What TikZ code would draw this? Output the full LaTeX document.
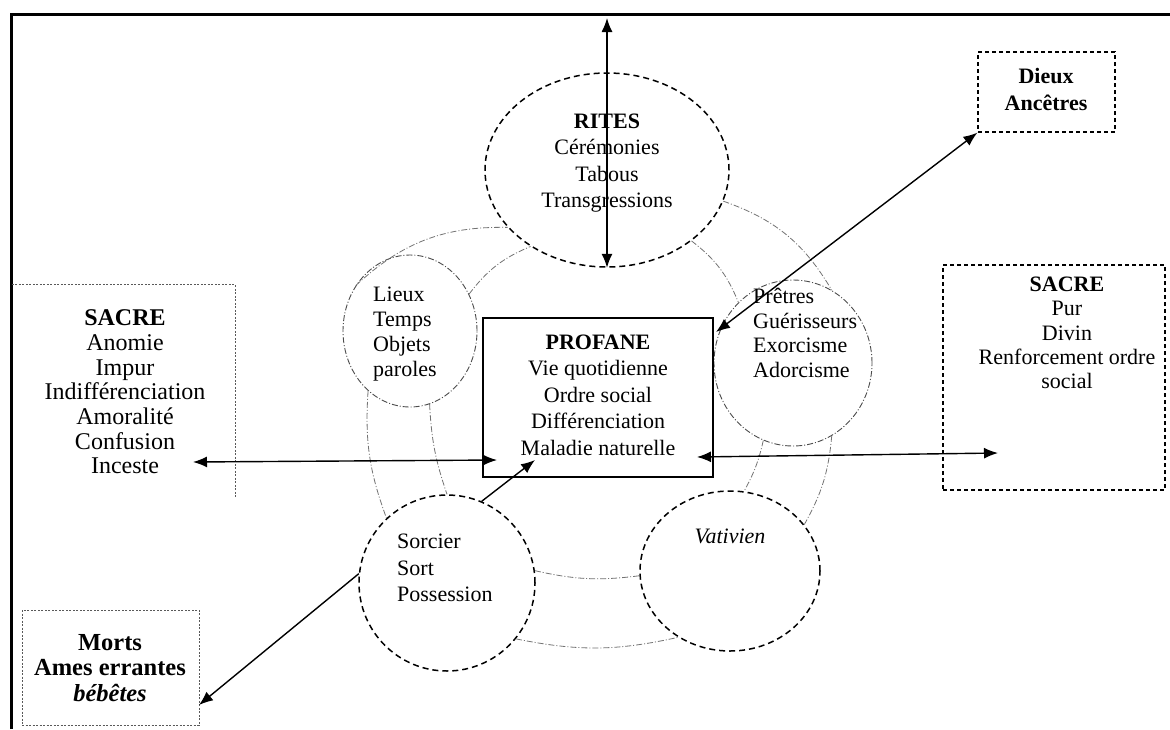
\documentclass[tikz,border=0pt]{standalone}
\usepackage{fontspec}
\setmainfont{Liberation Serif}
\usetikzlibrary{shapes.geometric,arrows.meta}
\begin{document}
\begin{tikzpicture}[x=1pt,y=1pt,
  txt/.style={font=\fontsize{22}{26.5}\selectfont, inner sep=0pt, align=center},
  bubble/.style={draw, line width=1.5pt, dash pattern=on 6pt off 4pt, ellipse, inner sep=0pt},
  thinbubble/.style={draw=black!70, line width=0.9pt, dash pattern=on 6pt off 2pt on 1pt off 2pt, ellipse, inner sep=0pt},
  ring/.style={draw=black!55, line width=0.8pt, dash pattern=on 6pt off 2pt on 1pt off 2pt},
  arr/.style={line width=1.4pt, {Latex[length=14pt,width=11pt]}-{Latex[length=14pt,width=11pt]}},
  onearr/.style={line width=1.4pt, -{Latex[length=14pt,width=11pt]}},
  dbox/.style={draw, line width=1.3pt, dash pattern=on 4pt off 3pt, inner sep=0pt},
  dotbox/.style={draw=black!65, line width=1pt, dash pattern=on 2pt off 1.5pt},
  plainbox/.style={inner sep=0pt},
]
\useasboundingbox (0,0) rectangle (1170,-729);
\fill[white] (0,0) rectangle (1170,-729);
\draw[line width=3pt] (11,-729) -- (11,-14) -- (1171,-14);

% bubbles
\node[bubble, minimum width=244pt, minimum height=194pt] (R) at (607,-170) {};
\node[thinbubble, minimum width=134pt, minimum height=152pt] (L) at (410,-331) {};
\node[thinbubble, minimum width=158pt, minimum height=166pt] (P) at (793,-363) {};
\node[bubble, minimum width=176pt, minimum height=176pt] (S) at (447,-583) {};
\node[bubble, minimum width=180pt, minimum height=160pt] (V) at (730,-571) {};

% ring arcs
\draw[ring] (L.140) to[bend left=22] (R.210);
\draw[ring] (L.32) to[bend left=15] (R.225);
\draw[ring] (R.345) to[bend left=20] (P.62);
\draw[ring] (R.320) to[bend left=15] (P.132);
\draw[ring] (L.235) to[bend right=12] (S.133);
\draw[ring] (L.285) to[bend right=8] (S.90);
\draw[ring] (P.298) to[bend left=12] (V.32);
\draw[ring] (P.249) to[bend left=8] (V.80);
\draw[ring] (S.8) to[bend right=10] (V.183);
\draw[ring] (S.321) to[bend right=12] (V.232);

% profane
\node[draw, line width=1.3pt, minimum width=230pt, minimum height=159pt, inner sep=0pt] (PR) at (598,-397.5) {};
\node[txt] (PT) at (598,-395) {\textbf{PROFANE}\\Vie quotidienne\\Ordre social\\Différenciation\\Maladie naturelle};

% texts in bubbles
\node[txt] (RT) at (607,-163) {\textbf{RITES}\\Cérémonies\\Tabous\\Transgressions};
\node[txt, align=left, anchor=west, font=\fontsize{22}{25}\selectfont] (LT) at (373,-334) {Lieux\\Temps\\Objets\\paroles};
\node[txt, align=left, anchor=west, font=\fontsize{22}{24.5}\selectfont] (PTT) at (753,-333) {Prêtres\\Guérisseurs\\Exorcisme\\Adorcisme};
\node[txt, align=left, anchor=west] (ST) at (397,-568) {Sorcier\\Sort\\Possession};
\node[txt, font=\fontsize{22}{26}\itshape] (VT) at (730,-536) {Vativien};

% outer boxes
\node[plainbox, minimum width=223pt, minimum height=212pt] (LSb) at (123.5,-391) {};
\draw[dotbox] (LSb.north west) -- (LSb.north east) -- (LSb.south east);
\node[txt, font=\fontsize{24}{24.7}\selectfont] (LS) at (125,-392) {\textbf{SACRE}\\Anomie\\Impur\\Indifférenciation\\Amoralité\\Confusion\\Inceste};

\node[dbox, minimum width=222pt, minimum height=225pt] (RSb) at (1054,-377.5) {};
\node[txt, font=\fontsize{22}{24.2}\selectfont] (RS) at (1067,-333) {\textbf{SACRE}\\Pur\\Divin\\Renforcement ordre\\social};

\node[dbox, minimum width=137pt, minimum height=80pt] (D) at (1046.5,-92) {};
\node[txt, font=\fontsize{22}{27}\selectfont\bfseries] (DT) at (1046,-89) {Dieux\\Ancêtres};

\node[dotbox, inner sep=0pt, minimum width=177pt, minimum height=115pt] (M) at (110.5,-667.5) {};
\node[txt, font=\fontsize{24.5}{25.5}\selectfont\bfseries] (MT) at (110,-668) {Morts\\Ames errantes\\\textit{bébêtes}};

% arrows
\coordinate (vt) at (607,-18);
\draw[arr] (vt) -- (R.south);
\coordinate (pe) at (716,-332);
\draw[arr] (D.south west) -- (pe);
\coordinate (la) at (193,-462);
\coordinate (lb) at (497,-460);
\draw[arr] (la) -- (lb);
\coordinate (ra) at (697,-457);
\coordinate (rb) at (998,-453);
\draw[arr] (ra) -- (rb);
\coordinate (se) at (535,-460);
\draw[onearr] (S.67) -- (se);
\coordinate (me) at (199,-705);
\draw[onearr] (S.174) -- (me);
\end{tikzpicture}
\end{document}
